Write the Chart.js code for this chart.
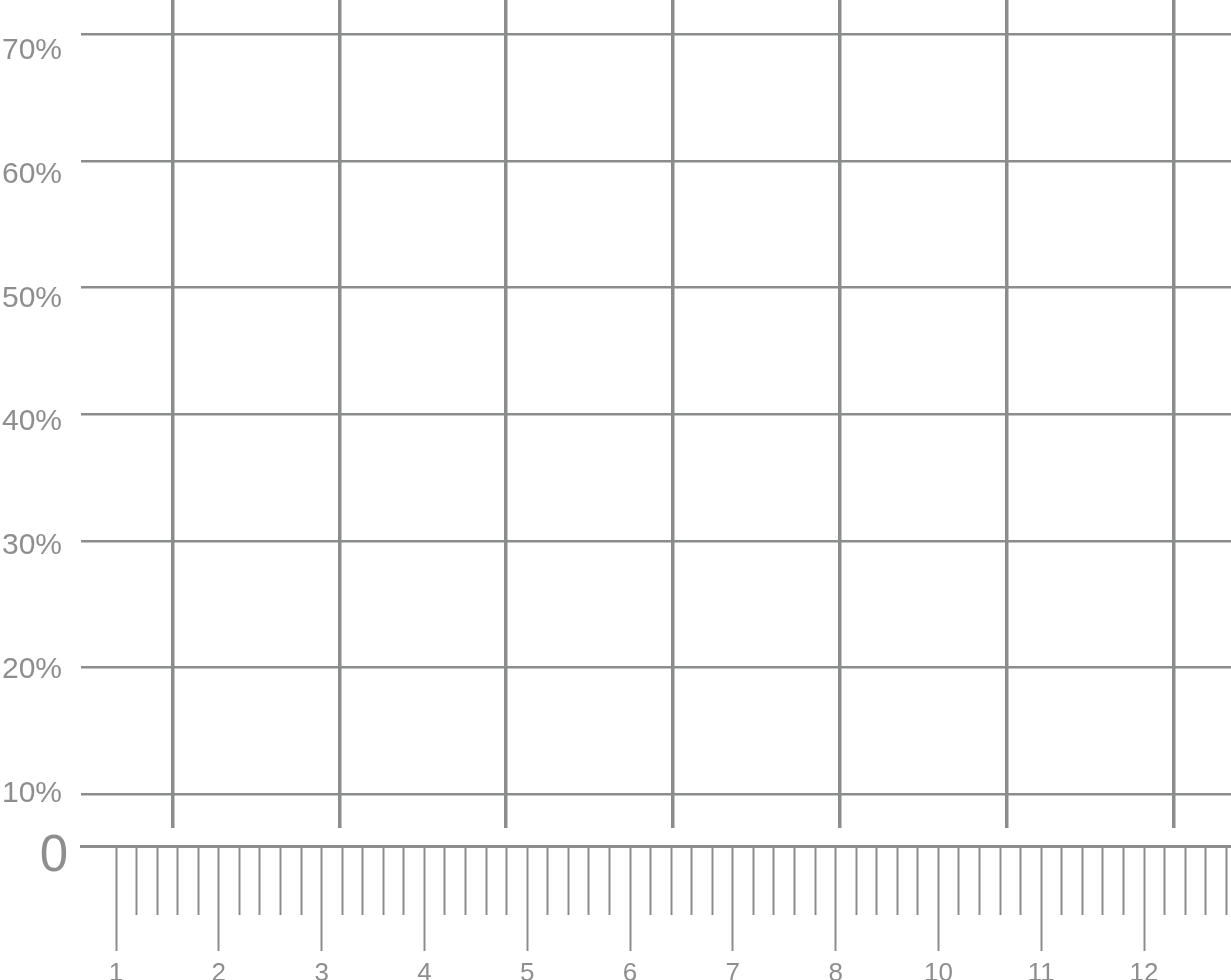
<!DOCTYPE html>
<html>
<head>
<meta charset="utf-8">
<title>Ruler grid</title>
<script src="https://cdn.jsdelivr.net/npm/chart.js@4.4.1/dist/chart.umd.min.js"></script>
<style>
  html, body { margin: 0; padding: 0; background: #fff; overflow: hidden; }
  #wrap { width: 1231px; height: 980px; }
</style>
</head>
<body>
<div id="wrap"><canvas id="gridChart"></canvas></div>
<script>
// values
var yTicks = [10, 20, 30, 40, 50, 60, 70];
var yLabels = ["10%", "20%", "30%", "40%", "50%", "60%", "70%"];
var zeroLabel = "0";
var rulerLabels = ["1", "2", "3", "4", "5", "6", "7", "8", "10", "11", "12"];
var rulerSteps = 5;            // minor divisions between two numbers
var gridColumns = [1, 2, 3, 4, 5, 6, 7];

var lineGray = "#8a8d8c";
var textGray = "#8e8e8e";
var fontFamily = "'Liberation Sans', Arial, sans-serif";

function noPadding(s) {
  s.paddingLeft = 0; s.paddingRight = 0; s.paddingTop = 0; s.paddingBottom = 0;
}

function rulerTicks(s) {
  var t = [];
  var last = (rulerLabels.length - 1) * rulerSteps + rulerSteps - 1;
  for (var i = 0; i <= last; i++) t.push({ value: i / rulerSteps });
  s.ticks = t;
}

var ctx = document.getElementById("gridChart").getContext("2d");
var gridChart = new Chart(ctx, {
  type: "scatter",
  data: { datasets: [] },
  options: {
    responsive: true,
    maintainAspectRatio: false,
    animation: false,
    layout: { padding: 0 },
    plugins: { legend: { display: false }, tooltip: { enabled: false } },
    scales: {
      // the ruler along the bottom
      x: {
        type: "linear", axis: "x", position: "bottom",
        min: -0.3405, max: 10.846,
        afterBuildTicks: rulerTicks,
        grid: {
          drawOnChartArea: false,
          tickLength: 105,
          color: lineGray,
          tickColor: lineGray,
          tickWidth: 2,
          tickBorderDash: function (c) {
            return c.index % rulerSteps === 0 ? [] : [67, 400];
          }
        },
        border: { display: true, color: lineGray, width: 3 },
        ticks: {
          autoSkip: false, maxRotation: 0, padding: 7,
          color: textGray,
          font: { family: fontFamily, size: 26 },
          callback: function (v, i) {
            return i % rulerSteps === 0 ? rulerLabels[i / rulerSteps] : "";
          }
        },
        afterFit: function (s) { s.height = 134; noPadding(s); }
      },
      // the thick vertical lines
      xg: {
        type: "linear", axis: "x", position: "top",
        min: 0.45, max: 7.346,
        afterBuildTicks: function (s) {
          s.ticks = gridColumns.map(function (v) { return { value: v }; });
        },
        grid: { color: lineGray, lineWidth: 3.5, drawTicks: false },
        border: { display: false, dash: [828, 2000] },
        ticks: { display: false },
        afterFit: function (s) { s.height = 0; noPadding(s); }
      },
      // horizontal lines, plus the big "0" under them (anchored left of the ruler)
      y: {
        type: "linear", axis: "y", position: { x: -0.467 },
        min: 5.918, max: 72.708,
        afterBuildTicks: function (s) {
          s.ticks = [{ value: 5.04 }].concat(yTicks.map(function (v) { return { value: v }; }));
        },
        grid: {
          color: lineGray, drawTicks: false,
          lineWidth: function (c) { return c.index === 0 ? 0 : 2.5; }
        },
        border: { display: false },
        ticks: {
          autoSkip: false, padding: 0, color: textGray,
          font: { family: fontFamily, size: 51 },
          callback: function (v, i) { return i === 0 ? zeroLabel : ""; }
        },
        afterFit: noPadding
      },
      // percent labels (slightly tighter spacing than the lines)
      yl: {
        type: "linear", axis: "y", position: "left",
        min: 5.74, max: 74.122,
        afterBuildTicks: function (s) {
          s.ticks = yTicks.map(function (v) { return { value: v }; });
        },
        grid: { display: false, drawTicks: false },
        border: { display: false },
        ticks: {
          autoSkip: false, padding: 19, color: textGray,
          font: { family: fontFamily, size: 30 },
          callback: function (v, i) { return yLabels[i]; }
        },
        afterFit: function (s) { s.width = 81; noPadding(s); }
      }
    }
  }
});
</script>
</body>
</html>
